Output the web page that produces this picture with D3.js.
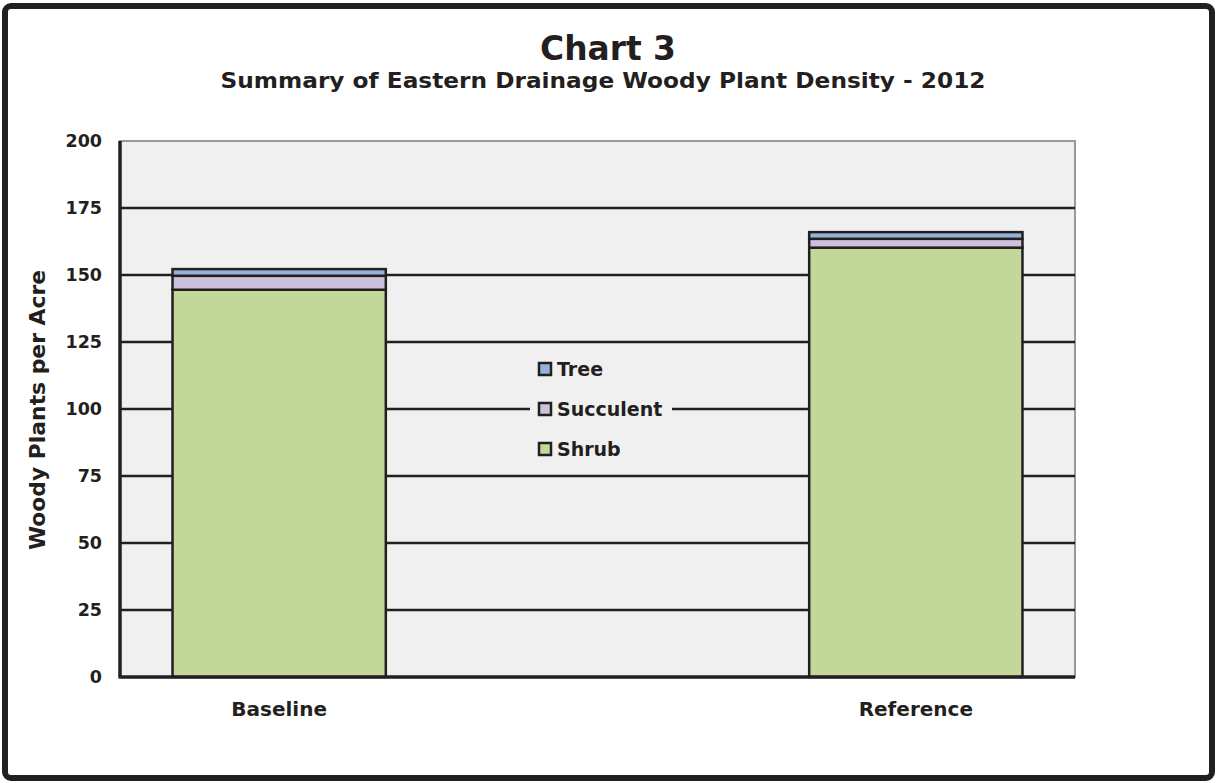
<!DOCTYPE html>
<html>
<head>
<meta charset="utf-8">
<script src="https://cdn.jsdelivr.net/npm/d3@7"></script>
<style>
  body { margin: 0; background: #fff; }
  text { font-family: "DejaVu Sans", Verdana, sans-serif; font-weight: bold; fill: #231f20; }
</style>
</head>
<body>
<svg id="chart"></svg>
<script>
// chart values
const sites = ["Baseline", "Reference"];
const layers = ["Shrub", "Succulent", "Tree"];
const shrub = [144.5, 160.2];
const succulent = [5.2, 3.3];
const tree = [2.5, 2.5];
const yTicks = [0, 25, 50, 75, 100, 125, 150, 175, 200];
const layerColors = ["#c4d79b", "#ccc0da", "#95b3d7"];

const W = 1217, H = 783;
const margin = { top: 141, left: 120, right: 142, bottom: 106 };
const width = W - margin.left - margin.right;
const height = H - margin.top - margin.bottom;
const ink = "#231f20";

const svg = d3.select("#chart").attr("width", W).attr("height", H);

// outer frame
svg.append("rect")
  .attr("x", 5).attr("y", 6).attr("width", W - 10).attr("height", H - 11)
  .attr("rx", 6).attr("fill", "#fff").attr("stroke", ink).attr("stroke-width", 6);

// titles
svg.append("text").attr("x", 608).attr("y", 60).attr("text-anchor", "middle")
  .style("font-size", "33px").attr("textLength", 136).attr("lengthAdjust", "spacingAndGlyphs")
  .text("Chart 3");
svg.append("text").attr("x", 603).attr("y", 88).attr("text-anchor", "middle")
  .style("font-size", "21px").attr("textLength", 765).attr("lengthAdjust", "spacingAndGlyphs")
  .text("Summary of Eastern Drainage Woody Plant Density - 2012");

const chart = svg.append("g").attr("transform", `translate(${margin.left},${margin.top})`);

const rows = sites.map((s, i) => ({ site: s, Shrub: shrub[i], Succulent: succulent[i], Tree: tree[i] }));
const stacked = d3.stack().keys(layers)(rows);

const x = d3.scalePoint().domain(sites).range([0, width]).padding(0.25);
const y = d3.scaleLinear().domain([0, 200]).range([height, 0]);
const barW = x.step() * 0.335;

// plot background
chart.append("rect").attr("width", width).attr("height", height)
  .attr("fill", "#f0f0f0").attr("stroke", "#9a9a9a").attr("stroke-width", 2);

// gridlines
chart.selectAll(".grid").data(yTicks.filter(d => d > 0 && d < 200)).join("line")
  .attr("class", "grid")
  .attr("x1", 0).attr("x2", width)
  .attr("y1", d => y(d)).attr("y2", d => y(d))
  .attr("stroke", ink).attr("stroke-width", 2.5);

// bars
chart.selectAll(".layer").data(stacked).join("g")
  .attr("class", "layer")
  .attr("fill", (d, i) => layerColors[i])
  .selectAll("rect").data(d => d).join("rect")
    .attr("x", d => x(d.data.site) - barW / 2)
    .attr("y", d => y(d[1]))
    .attr("width", barW)
    .attr("height", d => y(d[0]) - y(d[1]))
    .attr("stroke", ink).attr("stroke-width", 2.5);

// axes
chart.append("line").attr("x1", 0).attr("x2", 0).attr("y1", 0).attr("y2", height)
  .attr("stroke", ink).attr("stroke-width", 3.5);
chart.append("line").attr("x1", -1.5).attr("x2", width).attr("y1", height).attr("y2", height)
  .attr("stroke", ink).attr("stroke-width", 3.5);

chart.selectAll(".ytick").data(yTicks).join("text")
  .attr("class", "ytick")
  .attr("x", -18).attr("y", d => y(d) + 6)
  .attr("text-anchor", "end").style("font-size", "17.5px")
  .text(d => d);

chart.selectAll(".xtick").data(sites).join("text")
  .attr("class", "xtick")
  .attr("x", d => x(d)).attr("y", height + 39)
  .attr("text-anchor", "middle").style("font-size", "20px")
  .text(d => d);

svg.append("text")
  .attr("transform", `translate(45,${margin.top + height / 2 + 1}) rotate(-90)`)
  .attr("text-anchor", "middle").style("font-size", "21px")
  .attr("textLength", 280).attr("lengthAdjust", "spacingAndGlyphs")
  .text("Woody Plants per Acre");

// legend
const legend = svg.append("g").attr("transform", "translate(530,352)");
legend.append("rect").attr("width", 142).attr("height", 116).attr("fill", "#f0f0f0");
const legendItems = layers.slice().reverse();
const li = legend.selectAll(".item").data(legendItems).join("g")
  .attr("class", "item")
  .attr("transform", (d, i) => `translate(9,${11 + i * 40})`);
li.append("rect").attr("width", 12).attr("height", 12)
  .attr("fill", d => layerColors[layers.indexOf(d)])
  .attr("stroke", ink).attr("stroke-width", 2.5);
li.append("text").attr("x", 18).attr("y", 13).style("font-size", "19px").text(d => d);
</script>
</body>
</html>
